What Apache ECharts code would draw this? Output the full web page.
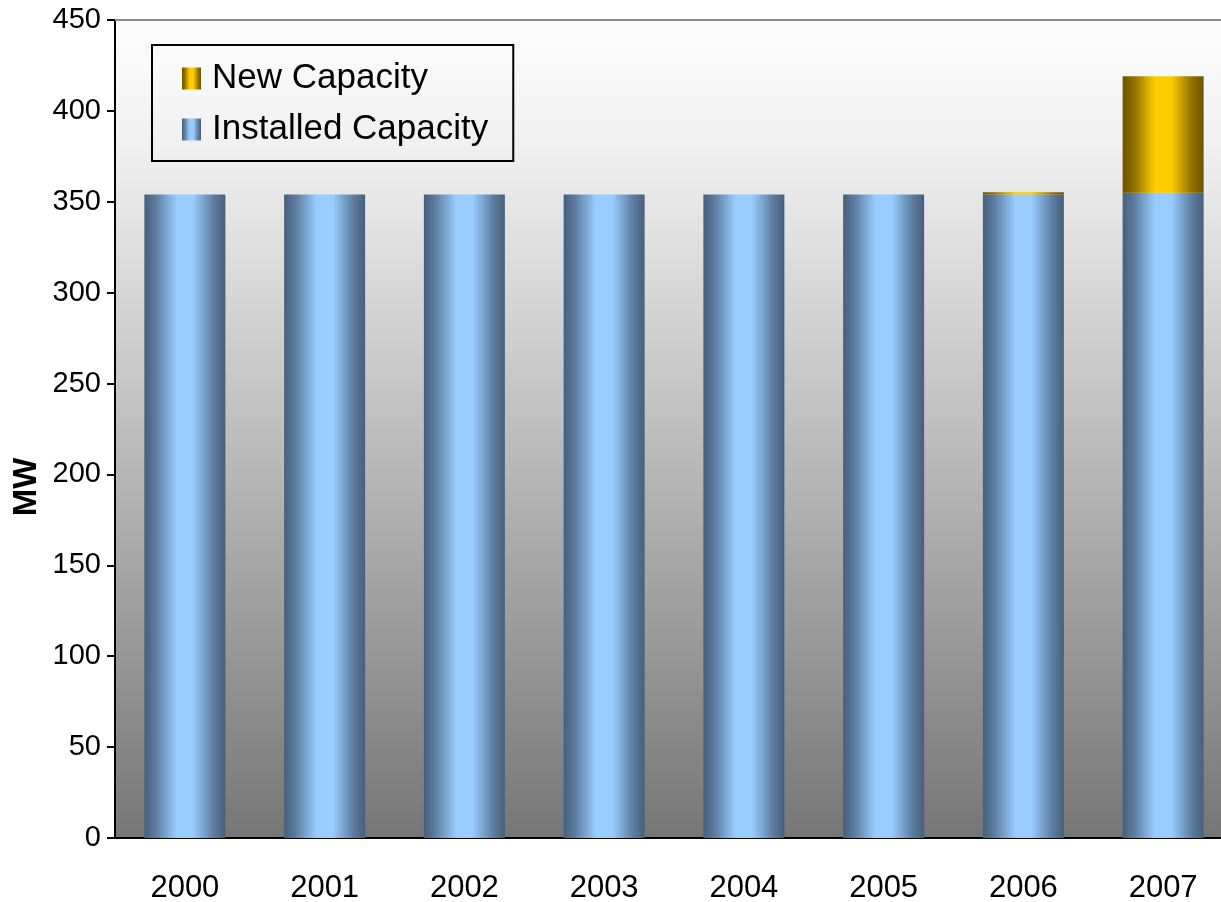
<!DOCTYPE html>
<html>
<head>
<meta charset="utf-8">
<script src="https://cdn.jsdelivr.net/npm/echarts@6/dist/echarts.min.js"></script>
<style>
  html, body { margin: 0; padding: 0; background: #fff; }
  #chart { width: 1221px; height: 902px; }
</style>
</head>
<body>
<div id="chart"></div>
<script>
// 数据
const years = ['2000', '2001', '2002', '2003', '2004', '2005', '2006', '2007'];
const installedCapacity = [354, 354, 354, 354, 354, 354, 354, 355];
const newCapacity = [0, 0, 0, 0, 0, 0, 1.2, 64];
const yTicks = { min: 0, max: 450, interval: 50 };

const FONT = '"Liberation Sans", Arial, sans-serif';

// 柱子横向渐变（圆柱效果）
function cylinder(edge, mid, center) {
  return new echarts.graphic.LinearGradient(0, 0, 1, 0, [
    { offset: 0, color: edge },
    { offset: 0.14, color: mid },
    { offset: 0.4, color: center },
    { offset: 0.6, color: center },
    { offset: 0.86, color: mid },
    { offset: 1, color: edge }
  ]);
}

const chart = echarts.init(document.getElementById('chart'));

chart.setOption({
  animation: false,
  grid: {
    left: 115,
    top: 20,
    width: 1118,
    height: 818,
    containLabel: false,
    outerBoundsMode: 'none',
    show: true,
    borderWidth: 0,
    backgroundColor: new echarts.graphic.LinearGradient(0, 0, 0, 1, [
      { offset: 0, color: '#fdfdfd' },
      { offset: 0.15, color: '#f1f1f1' },
      { offset: 1, color: '#767676' }
    ])
  },
  graphic: [{
    type: 'line',
    shape: { x1: 115, y1: 20, x2: 1221, y2: 20 },
    style: { stroke: '#8c8c8c', lineWidth: 2 },
    z: 10
  }],
  legend: {
    orient: 'vertical',
    left: 152,
    top: 45,
    data: ['New Capacity', 'Installed Capacity'],
    icon: 'rect',
    itemWidth: 19,
    itemHeight: 22,
    itemGap: 16,
    borderColor: '#000',
    borderWidth: 2,
    padding: [16, 25, 14, 30],
    textStyle: {
      fontFamily: FONT,
      fontSize: 35,
      color: '#000',
      lineHeight: 35,
      padding: [0, 0, 0, 6]
    }
  },
  xAxis: {
    type: 'category',
    data: years,
    axisLine: { lineStyle: { color: '#000', width: 2 } },
    axisTick: { length: 10, lineStyle: { color: '#000', width: 2 } },
    axisLabel: { fontFamily: FONT, fontSize: 31, color: '#000', margin: 35 }
  },
  yAxis: {
    type: 'value',
    min: yTicks.min,
    max: yTicks.max,
    interval: yTicks.interval,
    name: 'MW',
    nameLocation: 'middle',
    nameRotate: 90,
    nameGap: 72,
    nameMoveOverlap: false,
    nameTextStyle: {
      fontFamily: FONT, fontSize: 33, fontWeight: 'bold', color: '#000',
      padding: [0, 116, 0, 0]
    },
    axisLine: { show: true, lineStyle: { color: '#000', width: 2 } },
    axisTick: { show: true, length: 8, lineStyle: { color: '#000', width: 2 } },
    splitLine: { show: false },
    axisLabel: { fontFamily: FONT, fontSize: 29, color: '#000', margin: 14 }
  },
  series: [
    {
      name: 'Installed Capacity',
      type: 'bar',
      stack: 'cap',
      barWidth: 81,
      data: installedCapacity,
      itemStyle: { color: cylinder('#46607e', '#5d7c9e', '#99ccff') }
    },
    {
      name: 'New Capacity',
      type: 'bar',
      stack: 'cap',
      barWidth: 81,
      data: newCapacity,
      itemStyle: { color: cylinder('#6b5500', '#8f7000', '#ffcc00') }
    }
  ]
});
</script>
</body>
</html>
